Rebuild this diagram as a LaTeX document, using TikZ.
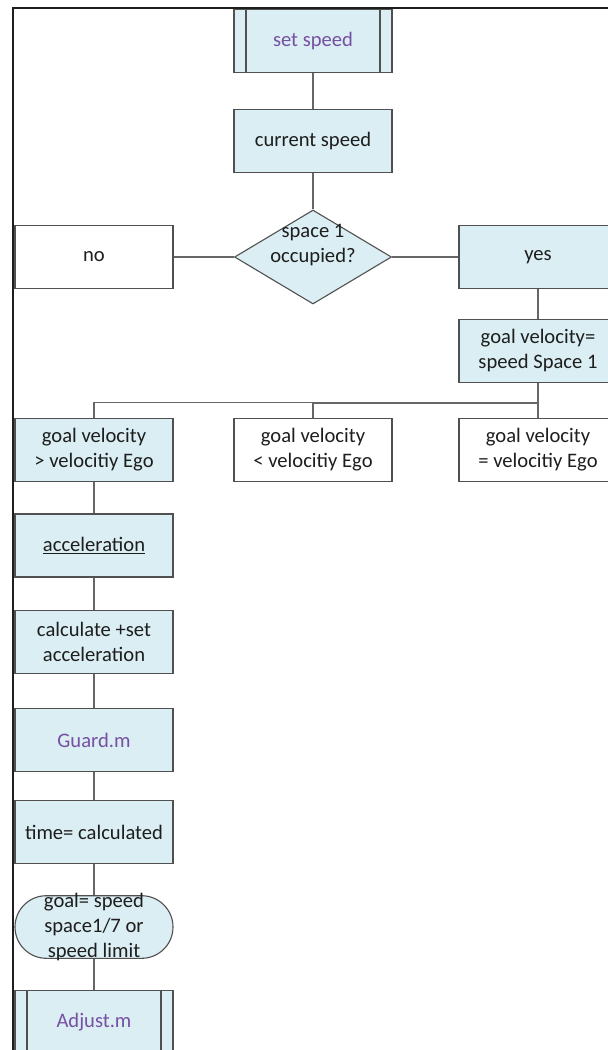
\documentclass[tikz,border=0pt]{standalone}
\usepackage{fontspec}
\setmainfont{Carlito}
\usetikzlibrary{shapes.geometric}
\definecolor{boxfill}{HTML}{DAEEF3}
\definecolor{edge}{HTML}{505050}
\definecolor{wire}{HTML}{666666}
\definecolor{frameline}{HTML}{1E1E1E}
\definecolor{ink}{HTML}{1E1E1E}
\definecolor{procpurple}{HTML}{7650A2}

\begin{document}
\begin{tikzpicture}[x=1pt,y=-1pt,
  every node/.style={font=\fontsize{20.6}{24.5}\selectfont, text=ink},
  base/.style={draw=edge, line width=1.1pt, minimum width=158pt, minimum height=63pt,
    inner xsep=2pt, inner ysep=-10pt, align=center},
  proc/.style={base, fill=boxfill},
  plain/.style={base, fill=white},
  linked/.style={proc, text=procpurple},
  subproc/.style={linked,
    path picture={
      \draw[edge, line width=1.1pt]
        ([xshift=12pt]path picture bounding box.north west) --
        ([xshift=12pt]path picture bounding box.south west)
        ([xshift=-12pt]path picture bounding box.north east) --
        ([xshift=-12pt]path picture bounding box.south east);}},
  decision/.style={diamond, draw=edge, line width=1.1pt, fill=boxfill,
    minimum width=157pt, minimum height=94pt, inner sep=0pt},
  terminal/.style={proc, minimum height=62.6pt, rounded corners=31.3pt,
    font=\fontsize{20.6}{25}\selectfont},
  conn/.style={draw=wire, line width=1.2pt}
]
\useasboundingbox (0,0) rectangle (608,1050);
\clip (0,0) rectangle (608,1050);
\fill[white] (0,0) rectangle (608,1050);

% outer frame
\draw[frameline, line width=1.2pt] (13,1060) -- (13,8) -- (620,8);

% main flow
\node[subproc] (setspd) at (313,41) {set speed};
\node[proc]    (cur)    at (313,141) {current speed};
\node[decision] (dec)   at (313,257) {};
\node[align=center, inner sep=0pt] (declabel) at (313,245) {space 1\\occupied?};
\node[plain] (no)  at (94,257)  {no};
\node[proc]  (yes) at (538,257) {yes};
\node[proc]  (gv)  at (538,350.7) {goal velocity=\\speed Space 1};

% comparison branches
\node[proc]  (gt) at (94,449.8)  {goal velocity\\> velocitiy Ego};
\node[plain] (lt) at (313,449.8) {goal velocity\\< velocitiy Ego};
\node[plain] (eq) at (538,449.8) {goal velocity\\= velocitiy Ego};

% acceleration chain
\node[proc]    (acc)   at (94,545.5) {\underline{acceleration}};
\node[proc]    (calc)  at (94,642)   {calculate +set\\acceleration};
\node[linked]  (guard) at (94,740.3) {Guard.m};
\node[proc]    (tcalc) at (94,832)   {time= calculated};
\node[terminal] (goal) at (94,927)   {goal= speed\\space1/7 or\\speed limit};
\node[subproc] (adj)   at (94,1022)  {Adjust.m};

% connectors
\draw[conn] (setspd) -- (cur);
\draw[conn] (cur) -- (dec);
\draw[conn] (dec) -- (no);
\draw[conn] (dec) -- (yes);
\draw[conn] (yes) -- (gv);
\draw[conn] (gv) -- (eq);
\draw[conn] (gv.south) -- ++(0,19.6) -| (gt.north);
\draw[conn] (gv.south) -- ++(0,20.2) -| (lt.north);
\draw[conn] (gt) -- (acc);
\draw[conn] (acc) -- (calc);
\draw[conn] (calc) -- (guard);
\draw[conn] (guard) -- (tcalc);
\draw[conn] (tcalc) -- (goal);
\draw[conn] (goal) -- (adj);
\end{tikzpicture}
\end{document}
